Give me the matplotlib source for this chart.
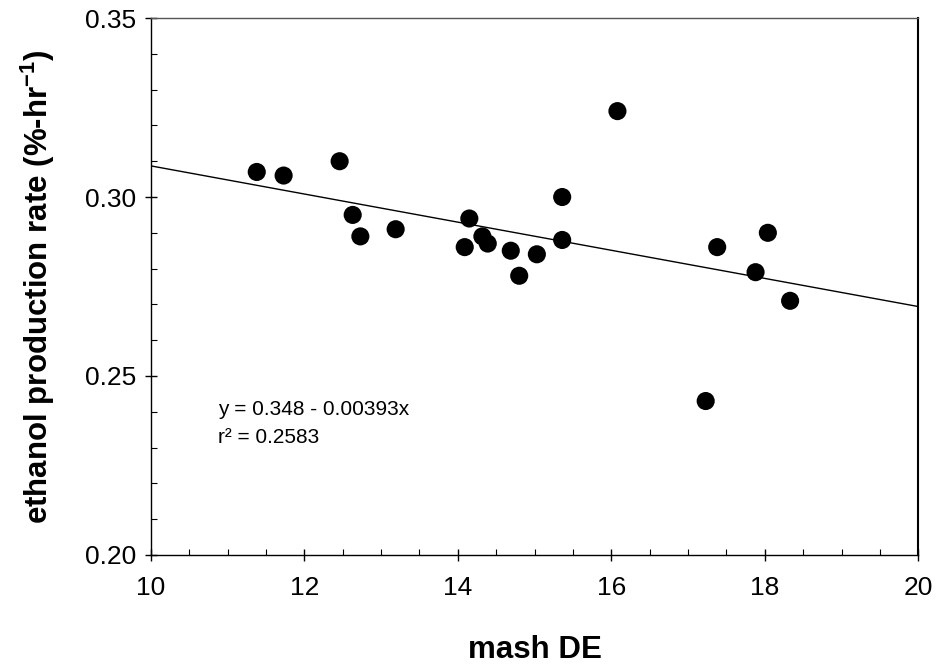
import matplotlib
matplotlib.use("Agg")
import matplotlib.pyplot as plt
from matplotlib.ticker import MultipleLocator
import numpy as np

plt.rcParams["font.family"] = ["Liberation Sans", "DejaVu Sans"]
plt.rcParams["mathtext.fontset"] = "custom"
plt.rcParams["mathtext.rm"] = "Liberation Sans"
plt.rcParams["mathtext.bf"] = "Liberation Sans:bold"

# mash DE vs ethanol production rate
mash_de = [11.38, 11.73, 12.46, 12.63, 12.73, 13.19, 14.15, 14.09, 14.32, 14.39,
           14.69, 14.80, 15.03, 15.36, 15.36, 16.08, 17.23, 17.38, 17.88, 18.04, 18.33]
rate = [0.307, 0.306, 0.310, 0.295, 0.289, 0.291, 0.294, 0.286, 0.289, 0.287,
        0.285, 0.278, 0.284, 0.300, 0.288, 0.324, 0.243, 0.286, 0.279, 0.290, 0.271]

# regression line from the printed equation
intercept = 0.348
slope = -0.00393
fit_x = [10, 20]

fig = plt.figure(figsize=(9.37, 6.69), dpi=100)
ax = fig.add_axes([0.161, 0.1705, 0.819, 0.8025])

fx = np.array(fit_x, dtype=float)
ax.plot(fx, intercept + slope * fx, color="black", linewidth=1.0, zorder=2)
ax.scatter(mash_de, rate, s=170, color="black", edgecolors="none", zorder=3)

ax.set_xlim(10, 20)
ax.set_ylim(0.20, 0.35)
ax.xaxis.set_major_locator(MultipleLocator(2))
ax.xaxis.set_minor_locator(MultipleLocator(0.5))
ax.yaxis.set_major_locator(MultipleLocator(0.05))
ax.yaxis.set_minor_locator(MultipleLocator(0.01))
ax.yaxis.set_major_formatter(plt.FormatStrFormatter("%.2f"))

ax.tick_params(which="major", direction="inout", length=9, width=1.0,
               labelsize=19)
ax.tick_params(axis="x", which="major", pad=11)
ax.tick_params(axis="y", which="major", pad=6)
ax.tick_params(which="minor", direction="in", length=4, width=0.8)

for sp in ax.spines.values():
    sp.set_linewidth(1.0)
ax.spines["right"].set_linewidth(1.5)
ax.spines["top"].set_color("#555555")

ax.set_xlabel("mash DE", fontsize=22.5, fontweight="bold", labelpad=25)
ax.set_ylabel(r"ethanol production rate (%-hr$^{\mathbf{-1}}$)",
              fontsize=22.5, fontweight="bold", labelpad=20)

ax.text(0.087, 0.27, "y = 0.348 - 0.00393x", transform=ax.transAxes,
        fontsize=15, va="center", ha="left")
ax.text(0.087, 0.218, "r\u00b2 = 0.2583", transform=ax.transAxes,
        fontsize=15, va="center", ha="left")

fig.savefig("out.png", dpi=100)
